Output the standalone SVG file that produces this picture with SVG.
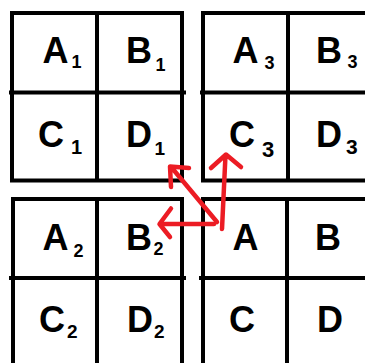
<svg xmlns="http://www.w3.org/2000/svg" width="365" height="363" viewBox="0 0 365 363">
<style>
.g{fill:none;stroke:#000;stroke-width:4}
.L{font-family:"Liberation Sans",Arial,sans-serif;font-weight:bold;font-size:36px;fill:#000}
.S{font-family:"Liberation Sans",Arial,sans-serif;font-weight:bold;fill:#000}
.a{fill:none;stroke:#ec1c24;stroke-width:4.5;stroke-linecap:round;stroke-linejoin:round}
</style>
<rect width="365" height="363" fill="#fff"/>
<g id="block1">
<rect class="g" x="12" y="13" width="170" height="167.5"/>
<line class="g" x1="97" y1="13" x2="97" y2="180.5"/>
<line class="g" x1="9" y1="92.5" x2="186" y2="92.5"/>
</g>
<g id="block3">
<rect class="g" x="203" y="13" width="200" height="167.5"/>
<line class="g" x1="288" y1="13" x2="288" y2="180.5"/>
<line class="g" x1="200" y1="92.5" x2="365" y2="92.5"/>
</g>
<g id="block2">
<rect class="g" x="13" y="199" width="169" height="200"/>
<line class="g" x1="97" y1="199" x2="97" y2="363"/>
<line class="g" x1="9" y1="278" x2="186" y2="278"/>
</g>
<g id="block0">
<rect class="g" x="203" y="199" width="200" height="200"/>
<line class="g" x1="287" y1="199" x2="287" y2="363"/>
<line class="g" x1="199" y1="278" x2="365" y2="278"/>
</g>
<g id="A1"><text class="L" x="42.5" y="63">A</text><text class="S" x="71.5" y="68" style="font-size:18px">1</text></g>
<g id="B1"><text class="L" x="126" y="63">B</text><text class="S" x="155.5" y="71" style="font-size:18px">1</text></g>
<g id="C1"><text class="L" x="38" y="147">C</text><text class="S" x="71" y="154" style="font-size:20px">1</text></g>
<g id="D1"><text class="L" x="126" y="147">D</text><text class="S" x="154.5" y="155" style="font-size:19px">1</text></g>
<g id="A3"><text class="L" x="232.5" y="63">A</text><text class="S" x="264.5" y="69" style="font-size:18px">3</text></g>
<g id="B3"><text class="L" x="316" y="63">B</text><text class="S" x="347.5" y="68" style="font-size:18px">3</text></g>
<g id="C3"><text class="L" x="229" y="147">C</text><text class="S" x="262" y="157" style="font-size:22px">3</text></g>
<g id="D3"><text class="L" x="316" y="147">D</text><text class="S" x="346" y="154" style="font-size:21px">3</text></g>
<g id="A2"><text class="L" x="42.5" y="250">A</text><text class="S" x="73.5" y="257" style="font-size:18px">2</text></g>
<g id="B2"><text class="L" x="126" y="250">B</text><text class="S" x="153.5" y="255" style="font-size:18px">2</text></g>
<g id="C2"><text class="L" x="39" y="332">C</text><text class="S" x="67" y="338" style="font-size:19px">2</text></g>
<g id="D2"><text class="L" x="127" y="332">D</text><text class="S" x="154" y="338" style="font-size:19px">2</text></g>
<g id="A"><text class="L" x="232.5" y="250">A</text></g>
<g id="B"><text class="L" x="315" y="250">B</text></g>
<g id="C"><text class="L" x="229" y="332">C</text></g>
<g id="D"><text class="L" x="317" y="332">D</text></g>
<g id="connectors">
<path class="a" d="M222,229 L225.5,155 M211,168 L226,154.5 L241,167"/>
<path class="a" d="M217,222 L172,168 M171,187 L170,166.5 L189,168"/>
<path class="a" d="M214,224 L160,224 M171,208.5 L159.5,224 L170,237"/>
</g>
</svg>
